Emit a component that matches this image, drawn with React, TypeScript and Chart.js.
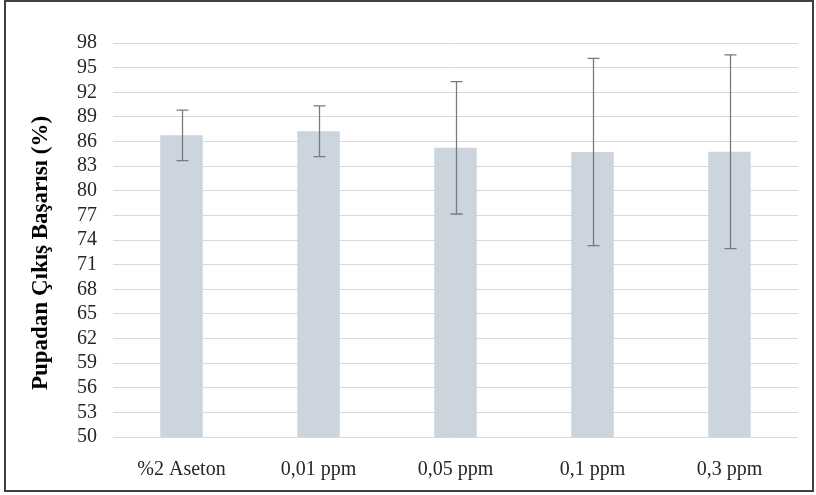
import React, { useEffect, useRef } from "react";
import { Chart, registerables } from "chart.js";

Chart.register(...registerables);

const categories = ["%2 Aseton", "0,01 ppm", "0,05 ppm", "0,1 ppm", "0,3 ppm"];
const means = [86.75, 87.24, 85.23, 84.72, 84.75];
const errors = [3.08, 3.09, 8.06, 11.4, 11.8];
const yMin = 50;
const yMax = 98;
const yStep = 3;
const yTitle = "Pupadan Çıkış Başarısı (%)";

const errorBarPlugin = {
  id: "errorBars",
  afterDatasetsDraw(chart: any) {
    const ctx = chart.ctx;
    const meta = chart.getDatasetMeta(0);
    const ys = chart.scales.y;
    ctx.save();
    ctx.strokeStyle = "#7a7a7a";
    ctx.lineWidth = 1.3;
    meta.data.forEach((bar: any, i: number) => {
      const x = Math.round(bar.x) + 0.5;
      const top = ys.getPixelForValue(means[i] + errors[i]);
      const bot = ys.getPixelForValue(means[i] - errors[i]);
      ctx.beginPath();
      ctx.moveTo(x, top);
      ctx.lineTo(x, bot);
      ctx.moveTo(x - 6, top);
      ctx.lineTo(x + 6, top);
      ctx.moveTo(x - 6, bot);
      ctx.lineTo(x + 6, bot);
      ctx.stroke();
    });
    ctx.restore();
  },
};

const yTitlePlugin = {
  id: "yTitleText",
  afterDraw(chart: any) {
    const ctx = chart.ctx;
    const area = chart.chartArea;
    ctx.save();
    ctx.translate(41, (area.top + area.bottom) / 2 + 13);
    ctx.rotate(-Math.PI / 2);
    ctx.font = "bold 23px 'Liberation Serif'";
    ctx.fillStyle = "#000";
    ctx.textAlign = "center";
    ctx.textBaseline = "middle";
    ctx.fillText(yTitle, 0, 0);
    ctx.restore();
  },
};

export default function App() {
  const ref = useRef<HTMLCanvasElement | null>(null);
  useEffect(() => {
    document.body.style.margin = "0";
    const chart = new Chart(ref.current as HTMLCanvasElement, {
      type: "bar",
      data: {
        labels: categories,
        datasets: [
          {
            data: means,
            backgroundColor: "rgb(204,212,222)",
            borderWidth: 0,
            categoryPercentage: 1,
            barPercentage: 0.31,
          },
        ],
      },
      options: {
        animation: false,
        responsive: false,
        maintainAspectRatio: false,
        layout: { padding: { left: 0, right: 18, top: 43, bottom: 0 } },
        plugins: { legend: { display: false }, tooltip: { enabled: false } },
        scales: {
          x: {
            grid: { display: false, drawTicks: false },
            border: { display: false },
            ticks: {
              color: "#262626",
              padding: 21,
              font: { family: "Liberation Serif", size: 20 },
            },
            afterFit: (s: any) => {
              s.height = 58;
            },
          },
          y: {
            min: yMin,
            max: yMax,
            grid: { color: "#d9d9d9", lineWidth: 1, drawTicks: false },
            border: { display: false },
            ticks: {
              stepSize: yStep,
              autoSkip: false,
              color: "#262626",
              padding: 16,
              font: { family: "Liberation Serif", size: 20 },
            },
            afterFit: (s: any) => {
              s.width = 113;
            },
          },
        },
      },
      plugins: [errorBarPlugin, yTitlePlugin],
    });
    return () => chart.destroy();
  }, []);
  return (
    <div style={{ position: "relative", width: 816, height: 495, background: "#fff" }}>
      <canvas ref={ref} width={816} height={495} style={{ display: "block" }} />
      <div
        style={{
          position: "absolute",
          left: 4,
          top: 0,
          width: 806,
          height: 488,
          border: "2px solid #3f3f3f",
          pointerEvents: "none",
        }}
      />
    </div>
  );
}
